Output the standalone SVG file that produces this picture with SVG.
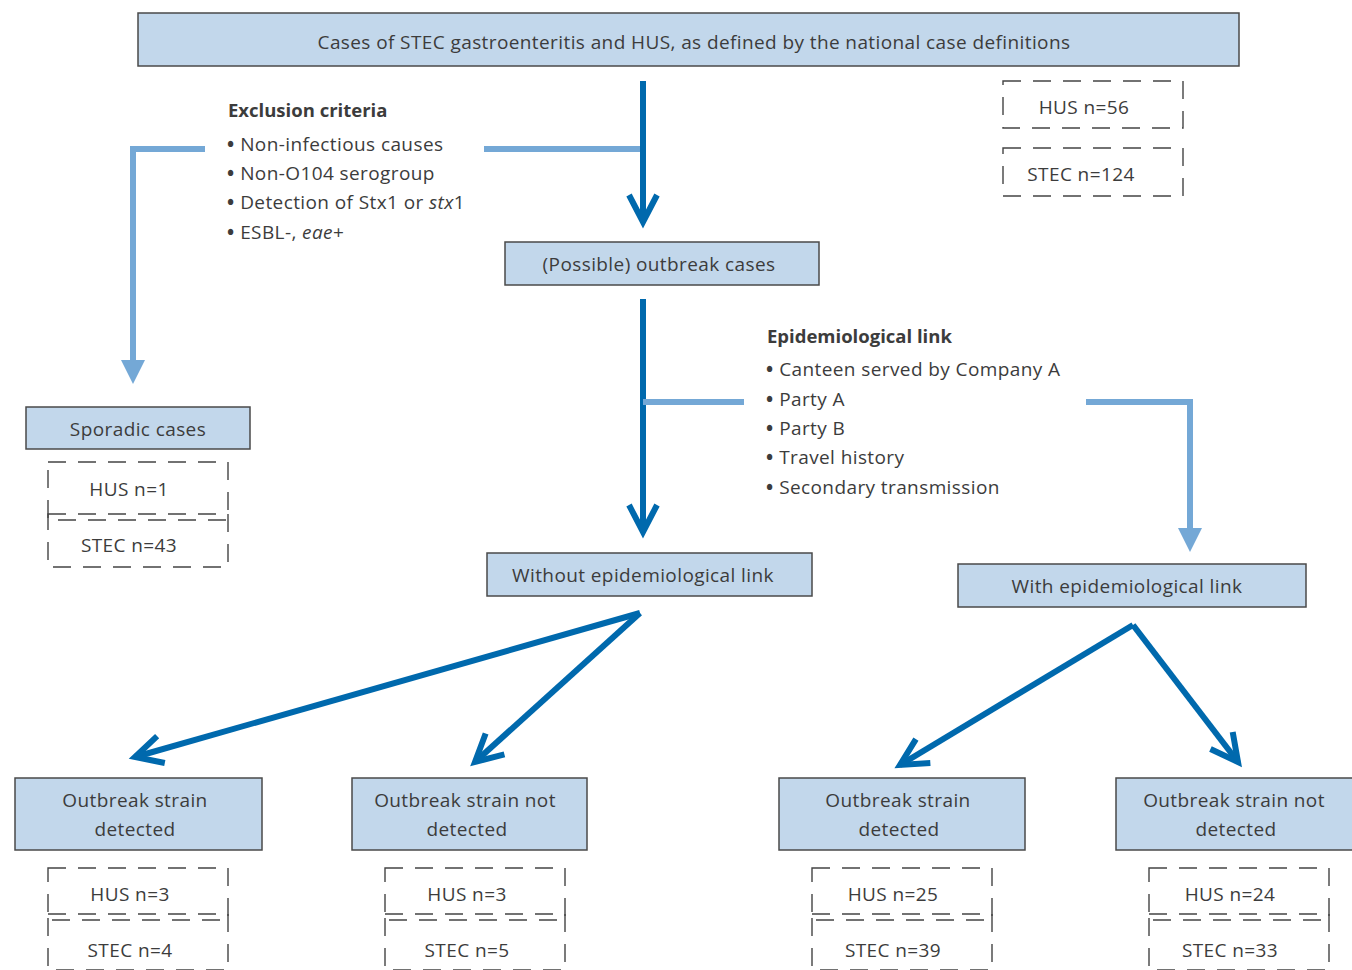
<svg xmlns="http://www.w3.org/2000/svg" width="1352" height="970" viewBox="0 0 1352 970">
<defs>
<style>
.box{fill:#c2d7eb;stroke:#4a4a4a;stroke-width:1.5}
.dash{fill:none;stroke:#444;stroke-width:1.4;stroke-dasharray:18 12}
text{font-family:"Open Sans","Noto Sans",sans-serif;font-size:19px;letter-spacing:0.4px;fill:#3c3c3c}
.c{text-anchor:middle}
.b{font-weight:bold;font-size:18.5px;letter-spacing:0}
.bl{font-weight:bold;letter-spacing:0}
.dk{fill:none;stroke:#0069ad;stroke-width:6}
.lt{fill:none;stroke:#74a8d6;stroke-width:6}
</style>
<marker id="chev" markerUnits="userSpaceOnUse" viewBox="-40 -20 50 40" refX="-3" refY="0" markerWidth="50" markerHeight="40" orient="auto">
<path d="M-30,-14 L-3,0 L-30,14" fill="none" stroke="#0069ad" stroke-width="6"/>
</marker>
<marker id="tri" markerUnits="userSpaceOnUse" viewBox="0 -14 26 28" refX="2" refY="0" markerWidth="26" markerHeight="28" orient="auto">
<path d="M0,-12 L24,0 L0,12 Z" fill="#74a8d6"/>
</marker>
</defs>

<g id="connectors">
<path class="lt" d="M484,149 H643"/>
<path class="lt" d="M205,149 H133 V362" marker-end="url(#tri)"/>
<path class="dk" d="M643,81 V222" marker-end="url(#chev)"/>
<path class="dk" d="M643,299 V532" marker-end="url(#chev)"/>
<path class="lt" d="M643,402 H744"/>
<path class="lt" d="M1086,402 H1190 V530" marker-end="url(#tri)"/>
<path class="dk" d="M640,613 L135,757" marker-end="url(#chev)"/>
<path class="dk" d="M640,613 L475,762" marker-end="url(#chev)"/>
<path class="dk" d="M1133,625 L900,765" marker-end="url(#chev)"/>
<path class="dk" d="M1133,625 L1238,762" marker-end="url(#chev)"/>
</g>

<g id="top">
<rect class="box" x="138" y="13" width="1101" height="53"/>
<text class="c" x="694" y="49">Cases of STEC gastroenteritis and HUS, as defined by the national case definitions</text>
</g>
<g id="top-counts">
<rect class="dash" x="1003" y="81" width="180" height="47"/>
<text class="c" x="1084" y="114">HUS n=56</text>
<rect class="dash" x="1003" y="148" width="180" height="48"/>
<text class="c" x="1081" y="181">STEC n=124</text>
</g>

<g id="exclusion">
<text class="b" x="228" y="117">Exclusion criteria</text>
<text x="227" y="151"><tspan class="bl">•</tspan><tspan dx="6">Non-infectious causes</tspan></text>
<text x="227" y="180"><tspan class="bl">•</tspan><tspan dx="6">Non-O104 serogroup</tspan></text>
<text x="227" y="209"><tspan class="bl">•</tspan><tspan dx="6">Detection of Stx1 or </tspan><tspan font-style="italic">stx</tspan>1</text>
<text x="227" y="239"><tspan class="bl">•</tspan><tspan dx="6">ESBL-, </tspan><tspan font-style="italic">eae</tspan>+</text>
</g>

<g id="possible">
<rect class="box" x="505" y="242" width="314" height="43"/>
<text class="c" x="659" y="271">(Possible) outbreak cases</text>
</g>

<g id="sporadic">
<rect class="box" x="26" y="407" width="224" height="42"/>
<text class="c" x="138" y="436">Sporadic cases</text>
<rect class="dash" x="48" y="462" width="180" height="58"/>
<text class="c" x="129" y="496">HUS n=1</text>
<rect class="dash" x="48" y="514" width="180" height="53"/>
<text class="c" x="129" y="552">STEC n=43</text>
</g>

<g id="epi">
<text class="b" x="767" y="343">Epidemiological link</text>
<text x="766" y="376"><tspan class="bl">•</tspan><tspan dx="6">Canteen served by Company A</tspan></text>
<text x="766" y="406"><tspan class="bl">•</tspan><tspan dx="6">Party A</tspan></text>
<text x="766" y="435"><tspan class="bl">•</tspan><tspan dx="6">Party B</tspan></text>
<text x="766" y="464"><tspan class="bl">•</tspan><tspan dx="6">Travel history</tspan></text>
<text x="766" y="494"><tspan class="bl">•</tspan><tspan dx="6">Secondary transmission</tspan></text>
</g>

<g id="without">
<rect class="box" x="487" y="553" width="325" height="43"/>
<text class="c" x="643" y="582">Without epidemiological link</text>
</g>
<g id="with">
<rect class="box" x="958" y="564" width="348" height="43"/>
<text class="c" x="1127" y="593">With epidemiological link</text>
</g>

<g id="b1">
<rect class="box" x="15" y="778" width="247" height="72"/>
<text class="c" x="135" y="807">Outbreak strain</text>
<text class="c" x="135" y="836">detected</text>
<rect class="dash" x="48" y="868" width="180" height="52"/>
<text class="c" x="130" y="901">HUS n=3</text>
<rect class="dash" x="48" y="914" width="180" height="56"/>
<text class="c" x="130" y="957">STEC n=4</text>
</g>
<g id="b2">
<rect class="box" x="352" y="778" width="235" height="72"/>
<text class="c" x="465" y="807">Outbreak strain not</text>
<text class="c" x="467" y="836">detected</text>
<rect class="dash" x="385" y="868" width="180" height="52"/>
<text class="c" x="467" y="901">HUS n=3</text>
<rect class="dash" x="385" y="914" width="180" height="56"/>
<text class="c" x="467" y="957">STEC n=5</text>
</g>
<g id="b3">
<rect class="box" x="779" y="778" width="246" height="72"/>
<text class="c" x="898" y="807">Outbreak strain</text>
<text class="c" x="899" y="836">detected</text>
<rect class="dash" x="812" y="868" width="180" height="52"/>
<text class="c" x="893" y="901">HUS n=25</text>
<rect class="dash" x="812" y="914" width="180" height="56"/>
<text class="c" x="893" y="957">STEC n=39</text>
</g>
<g id="b4">
<rect class="box" x="1116" y="778" width="240" height="72"/>
<text class="c" x="1234" y="807">Outbreak strain not</text>
<text class="c" x="1236" y="836">detected</text>
<rect class="dash" x="1149" y="868" width="180" height="52"/>
<text class="c" x="1230" y="901">HUS n=24</text>
<rect class="dash" x="1149" y="914" width="180" height="56"/>
<text class="c" x="1230" y="957">STEC n=33</text>
</g>
</svg>
